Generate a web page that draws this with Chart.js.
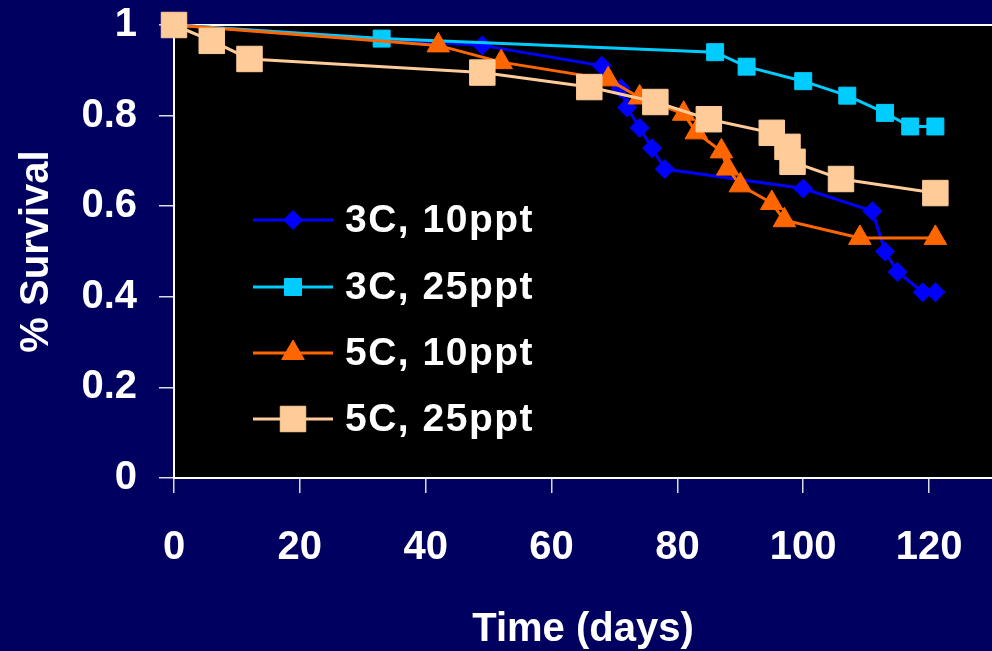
<!DOCTYPE html>
<html>
<head>
<meta charset="utf-8">
<title>% Survival over time</title>
<script src="https://cdn.jsdelivr.net/npm/chart.js@4.4.1/dist/chart.umd.min.js"></script>
<style>
  html, body { margin: 0; padding: 0; background: #000060; overflow: hidden; }
  #wrap { width: 992px; height: 651px; }
</style>
</head>
<body>
<div id="wrap"><canvas id="chart" width="992" height="651"></canvas></div>
<script>
// ---------------------------------------------
// survival data, one pair of arrays per group
// ---------------------------------------------
const seriesNames = ['3C, 10ppt', '3C, 25ppt', '5C, 10ppt', '5C, 25ppt'];

const days3C10 = [0, 49, 68, 71, 72, 74, 76, 78, 100, 111, 113, 115, 119, 121];
const surv3C10 = [1, 0.955, 0.91, 0.86, 0.818, 0.773, 0.728, 0.682, 0.639, 0.589, 0.5, 0.455, 0.41, 0.41];

const days3C25 = [0, 33, 86, 91, 100, 107, 113, 117, 121];
const surv3C25 = [1, 0.97, 0.94, 0.908, 0.876, 0.844, 0.806, 0.776, 0.776];

const days5C10 = [0, 42, 52, 69, 74, 81, 83, 87, 88, 90, 95, 97, 109, 121];
const surv5C10 = [1, 0.955, 0.918, 0.88, 0.84, 0.804, 0.763, 0.721, 0.683, 0.646, 0.607, 0.569, 0.53, 0.53];

const days5C25 = [0, 6, 12, 49, 66, 76.5, 85, 95, 97.5, 98.3, 106, 121];
const surv5C25 = [1, 0.965, 0.925, 0.895, 0.863, 0.83, 0.792, 0.762, 0.731, 0.698, 0.66, 0.629];

// axis ticks
const xTickStep = 20;
const yTickStep = 0.2;

const FONT = '"Liberation Sans", Arial, sans-serif';

// pair up the day / survival arrays into points
function toPoints(days, surv) {
  return days.map((d, i) => ({ x: d, y: surv[i] }));
}

// black plot area plus the white line across its top
const plotArea = {
  id: 'plotArea',
  beforeDraw(chart) {
    const { ctx, chartArea: a } = chart;
    ctx.save();
    ctx.fillStyle = '#000';
    ctx.fillRect(a.left, a.top, a.right - a.left, a.bottom - a.top);
    ctx.restore();
  },
  beforeDatasetsDraw(chart) {
    const { ctx, chartArea: a } = chart;
    ctx.save();
    ctx.strokeStyle = '#fff';
    ctx.lineWidth = 2;
    ctx.beginPath();
    ctx.moveTo(a.left, a.top);
    ctx.lineTo(a.right, a.top);
    ctx.stroke();
    ctx.restore();
  }
};

// legend sits inside the plot, left side
const insideLegend = {
  id: 'insideLegend',
  afterDatasetsDraw(chart) {
    const ctx = chart.ctx;
    const rows = [220, 287, 353, 419];
    const lineX = 253;
    chart.data.datasets.forEach((ds, i) => {
      const y = rows[i];
      ctx.save();
      ctx.strokeStyle = ds.borderColor;
      ctx.lineWidth = ds.borderWidth;
      ctx.beginPath();
      ctx.moveTo(lineX, y);
      ctx.lineTo(lineX + 80, y);
      ctx.stroke();

      ctx.fillStyle = ds.pointBackgroundColor;
      ctx.strokeStyle = ds.pointBorderColor;
      ctx.lineWidth = ds.pointBorderWidth;
      Chart.helpers.drawPoint(ctx, {
        pointStyle: ds.pointStyle,
        radius: ds.pointRadius,
        borderWidth: ds.pointBorderWidth,
        rotation: 0
      }, lineX + 40, y);

      ctx.fillStyle = '#fff';
      ctx.font = 'bold 39px ' + FONT;
      ctx.letterSpacing = '1.5px';
      ctx.textBaseline = 'middle';
      ctx.textAlign = 'left';
      ctx.fillText(ds.label, lineX + 92, y + 1);
      ctx.restore();
    });
  }
};

function lineSet(label, pts, color, style, radius, order) {
  return {
    label: label,
    data: pts,
    borderColor: color,
    borderWidth: 3,
    pointStyle: style,
    pointRadius: radius,
    pointHoverRadius: radius,
    pointBackgroundColor: color,
    pointBorderColor: color,
    pointBorderWidth: 1,
    tension: 0,
    clip: false,
    order: order
  };
}

new Chart(document.getElementById('chart'), {
  type: 'line',
  data: {
    datasets: [
      lineSet(seriesNames[0], toPoints(days3C10, surv3C10), '#0000ff', 'rectRot', 9.5, 4),
      lineSet(seriesNames[1], toPoints(days3C25, surv3C25), '#00ccff', 'rect', 12, 3),
      lineSet(seriesNames[2], toPoints(days5C10, surv5C10), '#ff6600', 'triangle', 13, 2),
      lineSet(seriesNames[3], toPoints(days5C25, surv5C25), '#ffcc99', 'rect', 18, 1)
    ]
  },
  options: {
    responsive: false,
    animation: false,
    layout: { autoPadding: false, padding: { top: 25, right: 0, bottom: 0, left: 0 } },
    plugins: {
      legend: { display: false },
      tooltip: { enabled: false }
    },
    scales: {
      x: {
        type: 'linear',
        min: 0,
        max: 130,
        afterFit: s => {
          s.height = 173;
          s.paddingLeft = 0;
          s.paddingRight = 0;
        },
        ticks: {
          stepSize: xTickStep,
          includeBounds: false,
          color: '#fff',
          padding: 31,
          font: { family: FONT, size: 40, weight: 'bold' }
        },
        grid: { drawOnChartArea: false, drawTicks: true, tickLength: 15, color: '#ddd', lineWidth: 1.5 },
        border: { color: '#fff', width: 2 },
        title: {
          display: true,
          text: 'Time (days)',
          color: '#fff',
          padding: { top: 0, bottom: -3 },
          font: { family: FONT, size: 40, weight: 'bold' }
        }
      },
      y: {
        min: 0,
        max: 1,
        afterFit: s => {
          s.width = 174;
          s.paddingTop = 0;
          s.paddingBottom = 0;
        },
        ticks: {
          stepSize: yTickStep,
          color: '#fff',
          padding: 22,
          callback: v => String(Math.round(v * 10) / 10),
          font: { family: FONT, size: 40, weight: 'bold' }
        },
        grid: { drawOnChartArea: false, drawTicks: true, tickLength: 15, color: '#ddd', lineWidth: 1.5 },
        border: { color: '#fff', width: 2 },
        title: {
          display: true,
          text: '% Survival',
          color: '#fff',
          padding: { top: 13, bottom: 0 },
          font: { family: FONT, size: 40, weight: 'bold' }
        }
      }
    }
  },
  plugins: [plotArea, insideLegend]
});
</script>
</body>
</html>
